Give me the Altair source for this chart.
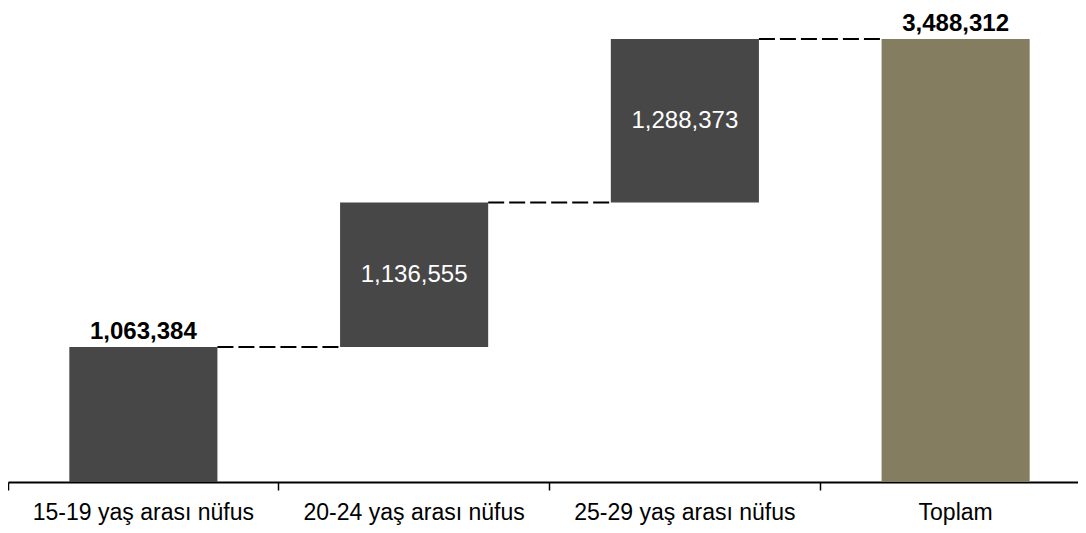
import altair as alt
import pandas as pd

categories = ["15-19 yaş arası nüfus", "20-24 yaş arası nüfus", "25-29 yaş arası nüfus", "Toplam"]
values = [1063384, 1136555, 1288373, 3488312]
is_total = [False, False, False, True]

rows = []
cum = 0
for c, v, t in zip(categories, values, is_total):
    if t:
        start, end = 0, v
    else:
        start, end = cum, cum + v
        cum = end
    rows.append({"cat": c, "start": start, "end": end, "value": v, "total": t,
                 "label": f"{v:,}", "mid": (start + end) / 2})
df = pd.DataFrame(rows)
df["kind"] = ["first", "inner", "inner", "total"]

conn = pd.DataFrame([
    {"a": categories[i], "b": categories[i + 1], "y": df.loc[i, "end"]}
    for i in range(len(categories) - 1)
])

ymax = 3732415
x = alt.X("cat:N", sort=categories, title=None,
          scale=alt.Scale(paddingInner=0, paddingOuter=0, range=[0, 1083]),
          axis=alt.Axis(labelAngle=0, labelFontSize=23, labelColor="black",
                        labelFont="Liberation Sans", domainColor="black",
                        tickColor="black", tickSize=8, labelPadding=29,
                        labelBaseline="alphabetic", labelLimit=0,
                        bandPosition=0, grid=False, domainWidth=2, tickWidth=1.5))
yscale = alt.Scale(domain=[0, ymax], nice=False, zero=True)

base = alt.Chart(df)
bars = base.mark_bar(width=alt.RelativeBandSize(0.547)).encode(
    x=x,
    y=alt.Y("start:Q", scale=yscale, axis=None),
    y2="end:Q",
    color=alt.Color("kind:N", scale=alt.Scale(domain=["first", "inner", "total"],
                                               range=["#474747", "#474747", "#857D5F"]),
                    legend=None),
)

top_labels = base.transform_filter("datum.kind != 'inner'").mark_text(
    fontSize=24, fontWeight="bold", font="Liberation Sans", color="black",
    baseline="alphabetic", dy=-8).encode(
    x=alt.X("cat:N", sort=categories),
    y=alt.Y("end:Q", scale=yscale),
    text="label:N",
)

inner_labels = base.transform_filter("datum.kind == 'inner'").mark_text(
    fontSize=24, font="Liberation Sans", color="white", baseline="middle").encode(
    x=alt.X("cat:N", sort=categories),
    y=alt.Y("mid:Q", scale=yscale),
    text="label:N",
)

rules = alt.Chart(conn).mark_rule(color="black", strokeWidth=2, strokeDash=[16, 5]).encode(
    x=alt.X("a:N", sort=categories, bandPosition=0.7735),
    x2=alt.X2("b:N", bandPosition=0.2265),
    y=alt.Y("y:Q", scale=yscale),
)

chart = alt.layer(bars, rules, top_labels, inner_labels).properties(
    width=1070, height=474,
    padding={"left": 0, "right": 0, "top": 0, "bottom": 43},
    autosize=alt.AutoSizeParams(type="none"),
).configure_view(stroke=None)

chart.save("out.html", embed_options={"renderer": "svg", "actions": False})
